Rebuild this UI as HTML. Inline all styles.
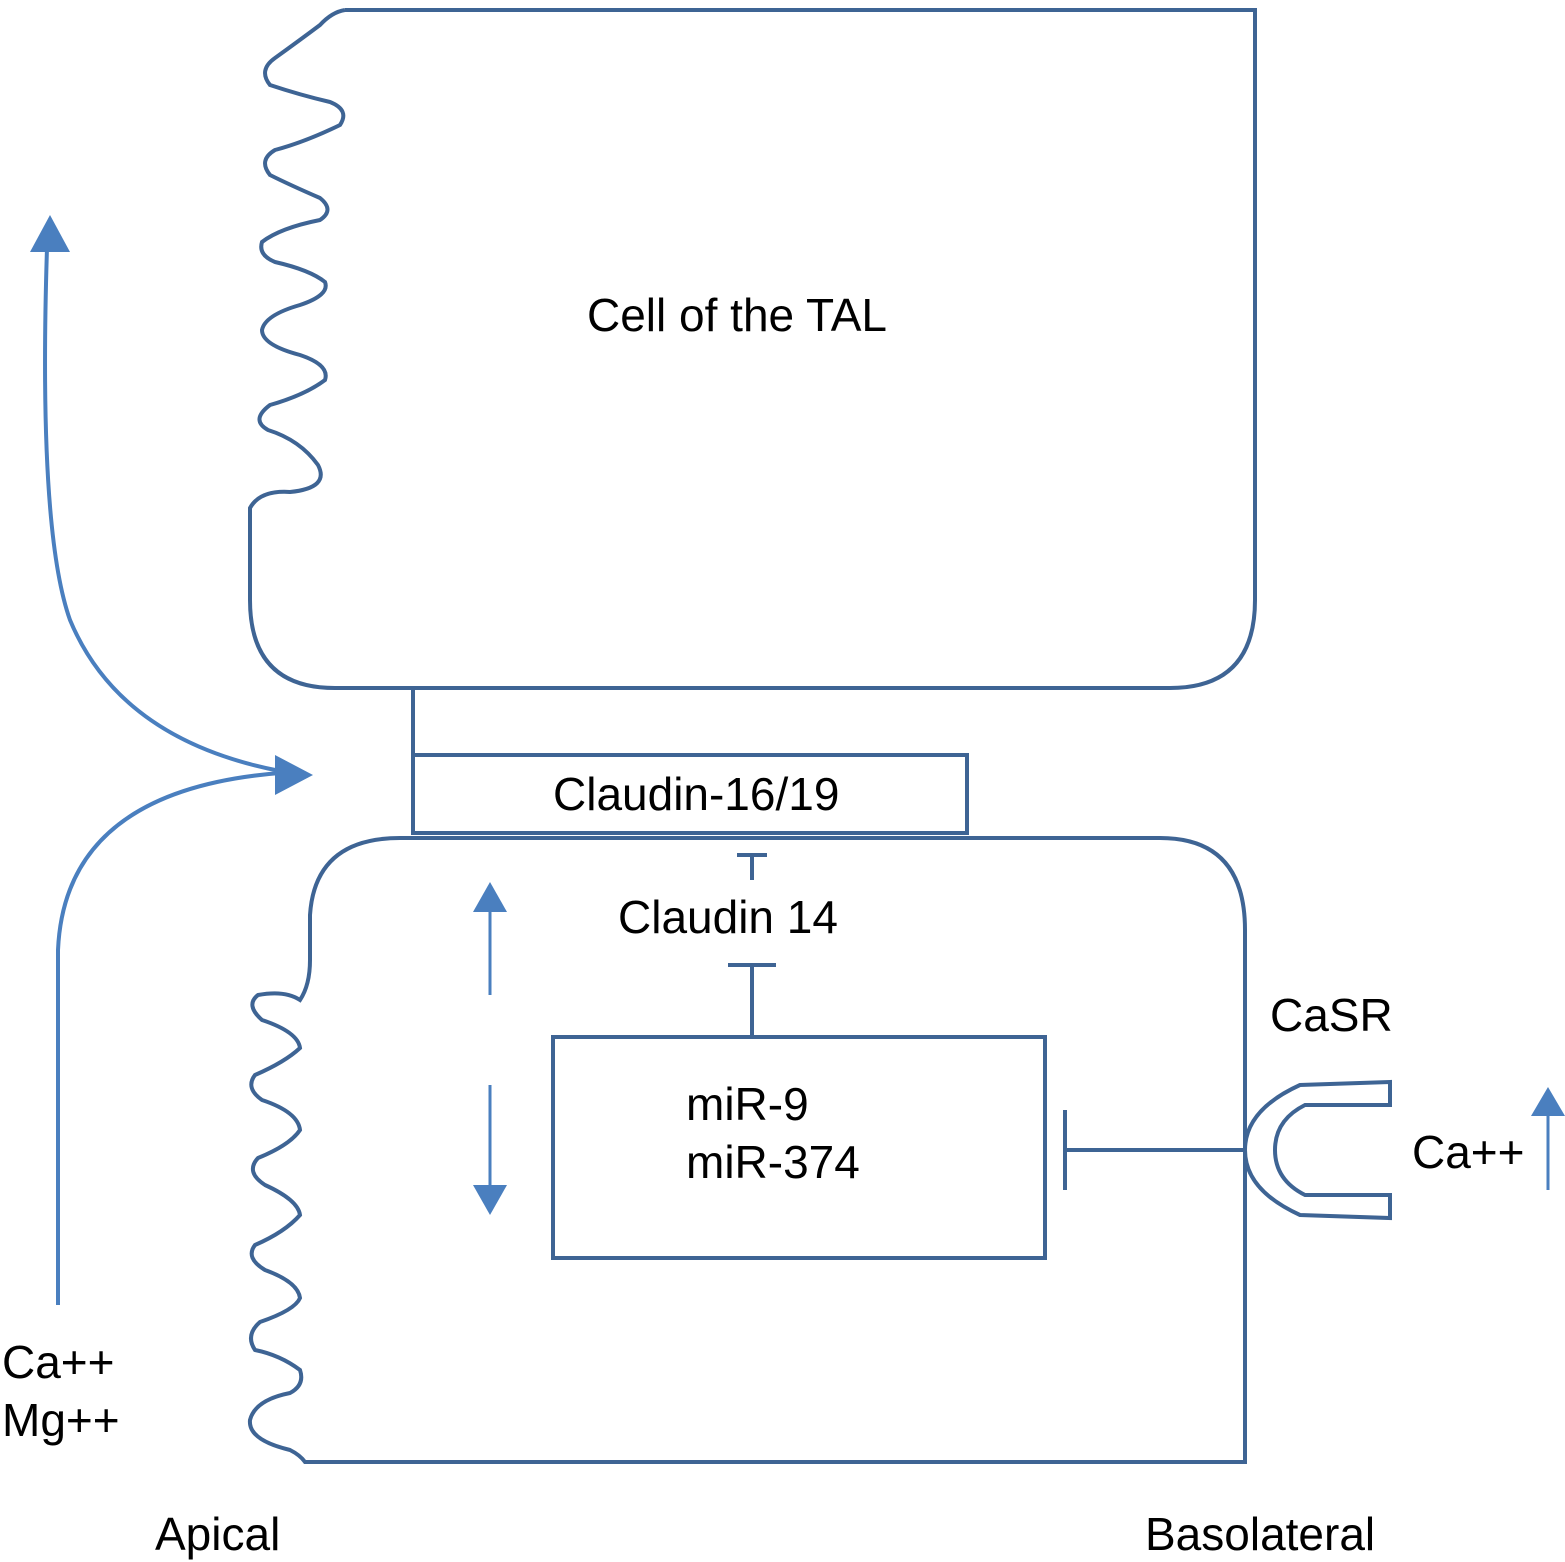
<!DOCTYPE html>
<html><head><style>body{margin:0;background:#fff}svg{display:block}text{font-family:"Liberation Sans",sans-serif;fill:#000}</style></head>
<body>
<svg width="1565" height="1562" viewBox="0 0 1565 1562" xmlns="http://www.w3.org/2000/svg">
<g fill="none" stroke="#3e6494" stroke-width="4">
<path d="M345,10 L1255,10 L1255,600 Q1255,688 1170,688 L335,688 Q250,688 250,600 L250,508 Q260,490 290,492 Q330,488 318,465 Q300,440 268,430 Q250,420 270,405 Q305,395 325,380 Q330,365 300,355 Q262,345 262,330 Q265,315 300,305 Q330,295 325,282 Q310,270 275,262 Q258,255 262,242 Q280,228 320,220 Q335,210 320,198 Q290,185 270,175 Q258,160 275,150 Q305,142 340,125 Q350,110 330,102 Q300,95 270,85 Q258,70 275,58 Q300,40 320,25 Q332,12 345,10"/>
<path d="M400,838 L1160,838 Q1245,838 1245,930 L1245,1462 L305,1462 Q300,1455 290,1450 Q248,1440 250,1420 Q255,1400 290,1393 Q305,1385 300,1370 Q280,1355 255,1350 Q245,1335 260,1322 Q295,1310 300,1298 Q298,1282 265,1270 Q245,1258 255,1245 Q285,1232 300,1215 Q298,1200 265,1185 Q245,1172 258,1158 Q290,1145 300,1130 Q298,1112 262,1100 Q245,1088 255,1075 Q285,1062 300,1048 Q298,1032 262,1020 Q245,1005 258,995 Q285,990 300,1000 Q310,985 310,960 L310,915 Q315,838 400,838"/>
<path d="M413,688 L413,755"/>
<rect x="413" y="755" width="554" height="78"/>
<rect x="553" y="1037" width="492" height="221"/>
<path d="M737,855 L767,855 M752,855 L752,880 M728,965 L776,965 M752,965 L752,1035 M1065,1110 L1065,1190 M1065,1150 L1245,1150"/>
<path d="M1390,1082 L1300,1085 Q1245,1110 1245,1150 Q1245,1190 1300,1215 L1390,1218 L1390,1195 L1305,1195 Q1275,1180 1275,1150 Q1275,1120 1305,1105 L1390,1105 Z"/>
</g>
<g fill="none" stroke="#4a7fbf" stroke-width="4">
<path d="M58,1305 L58,950 Q65,790 280,773"/>
<path d="M280,771 Q120,740 70,620 Q38,530 47,248"/>
</g>
<g fill="none" stroke="#4a7fbf" stroke-width="3">
<path d="M490,995 L490,908"/>
<path d="M490,1085 L490,1188"/>
<path d="M1548,1190 L1548,1112"/>
</g>
<g fill="#4a7fbf">
<polygon points="50,215 30,252 70,252"/>
<polygon points="313,775 275,755 275,795"/>
<polygon points="490,882 473,912 507,912"/>
<polygon points="490,1215 473,1185 507,1185"/>
<polygon points="1548,1087 1531,1116 1565,1116"/>
</g>
<g font-size="46">
<text x="587" y="331">Cell of the TAL</text>
<text x="553" y="810">Claudin-16/19</text>
<text x="618" y="933">Claudin 14</text>
<text x="686" y="1120">miR-9</text>
<text x="686" y="1178">miR-374</text>
<text x="1270" y="1031">CaSR</text>
<text x="1412" y="1168">Ca++</text>
<text x="2" y="1378">Ca++</text>
<text x="2" y="1436">Mg++</text>
<text x="155" y="1550">Apical</text>
<text x="1145" y="1550">Basolateral</text>
</g>
</svg>
</body></html>
